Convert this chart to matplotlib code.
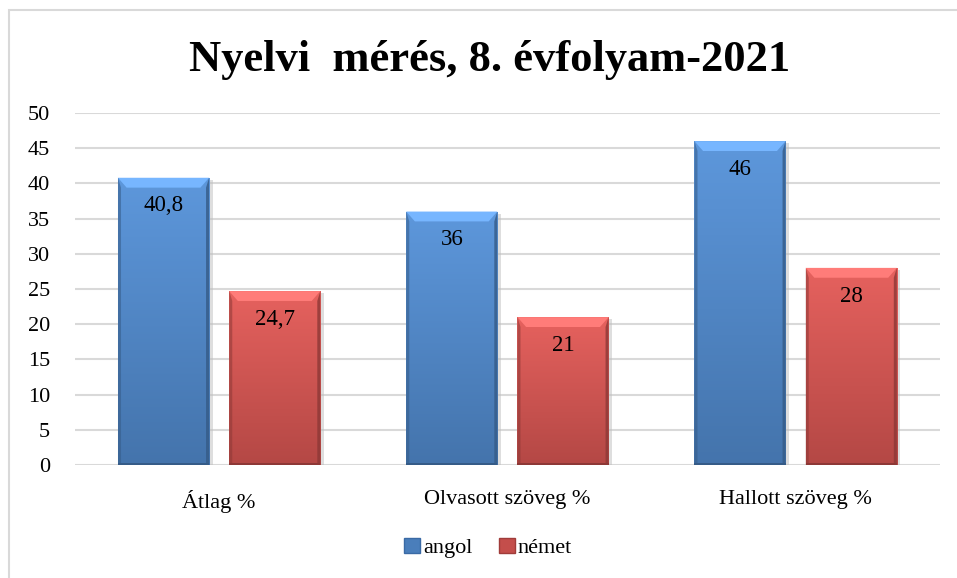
import matplotlib.pyplot as plt
import matplotlib.colors as mcolors
from matplotlib.patches import Polygon, Rectangle, Patch
import numpy as np

categories = ['Átlag %', 'Olvasott szöveg %', 'Hallott szöveg %']
angol = [40.8, 36, 46]
nemet = [24.7, 21, 28]
angol_labels = ['40,8', '36', '46']
nemet_labels = ['24,7', '21', '28']

plt.rcParams['font.family'] = ['Liberation Serif', 'DejaVu Serif']

fig = plt.figure(figsize=(9.57, 5.78), dpi=100)
ax = fig.add_axes([0.0784, 0.1955, 0.9036, 0.609])

# light frame of the chart area
fig.patches.append(Rectangle((9 / 957, -0.1), 1.2, 568 / 578 + 0.1, transform=fig.transFigure,
                             fill=False, edgecolor='#d9d9d9', linewidth=1.5))

x = np.arange(len(categories))
w = 0.316
gap = 0.035


def draw_bar(cx, h, base):
    c = np.array(mcolors.to_rgb(base))
    light = np.clip(c * 1.2 + 0.12, 0, 1)
    dark = c * 0.72
    x0, x1 = cx - w / 2, cx + w / 2
    # shadow
    ax.add_patch(Rectangle((x1, 0), 0.012, h - 0.3, facecolor='#bfbfbf', edgecolor='none', alpha=0.5, zorder=2))
    # gradient body, lighter at the top
    t = np.linspace(0, 1, 100)[:, None, None]
    top = np.clip(c * 1.12 + 0.04, 0, 1)
    bot = c * 0.92
    cols = top * (1 - t) + bot * t
    im = ax.imshow(np.repeat(cols, 2, axis=1), extent=[x0, x1, 0, h], origin='upper', aspect='auto', zorder=3)
    im.set_clip_path(Rectangle((x0, 0), w, h, transform=ax.transData, facecolor='none'))
    bx = 0.03
    by = 1.4
    # top bevel
    ax.add_patch(Polygon([(x0, h), (x1, h), (x1 - bx, h - by), (x0 + bx, h - by)], closed=True,
                         facecolor=light, edgecolor='none', zorder=4))
    # side bevels
    ax.add_patch(Polygon([(x0, 0), (x0, h), (x0 + bx * 0.35, h - by), (x0 + bx * 0.35, 0.3)], closed=True,
                         facecolor=dark, edgecolor='none', alpha=0.55, zorder=4))
    ax.add_patch(Polygon([(x1, 0), (x1, h), (x1 - bx * 0.35, h - by), (x1 - bx * 0.35, 0.3)], closed=True,
                         facecolor=dark, edgecolor='none', alpha=0.8, zorder=4))
    ax.add_patch(Rectangle((x0, 0), w, 0.3, facecolor=dark, edgecolor='none', zorder=4))


for i in range(len(categories)):
    ca = x[i] - w / 2 - gap
    cn = x[i] + w / 2 + gap
    draw_bar(ca, angol[i], '#4a7ebb')
    draw_bar(cn, nemet[i], '#c44e4b')
    ax.text(ca, angol[i] - 4.0, angol_labels[i], ha='center', va='center', fontsize=16.5, zorder=5)
    ax.text(cn, nemet[i] - 4.0, nemet_labels[i], ha='center', va='center', fontsize=16.5, zorder=5)

ax.set_xlim(-0.5, 2.5)
ax.set_ylim(0, 50)
ax.set_yticks(range(0, 51, 5))
ax.set_xticks(x)
ax.set_xticklabels(categories, fontsize=16)
ax.tick_params(axis='y', labelsize=16, length=0, pad=18)
ax.tick_params(axis='x', length=0, pad=18)
ax.yaxis.grid(True, color='#d9d9d9', linewidth=1.5)
ax.set_axisbelow(True)
for s in ax.spines.values():
    s.set_visible(False)

fig.text(0.512, 0.897, 'Nyelvi  mérés, 8. évfolyam-2021', ha='center', va='center',
         fontsize=32, fontweight='bold')

# legend
handles = [Patch(facecolor='#4a7ebb', edgecolor='#3a6aa5'), Patch(facecolor='#c44e4b', edgecolor='#a03c3a')]
fig.legend(handles, ['angol', 'német'], loc='center', bbox_to_anchor=(0.51, 0.052), ncol=2, frameon=False,
           fontsize=16, handlelength=0.7, handleheight=0.7, handletextpad=0.15, columnspacing=1.2)

fig.savefig('out.png', dpi=100)
